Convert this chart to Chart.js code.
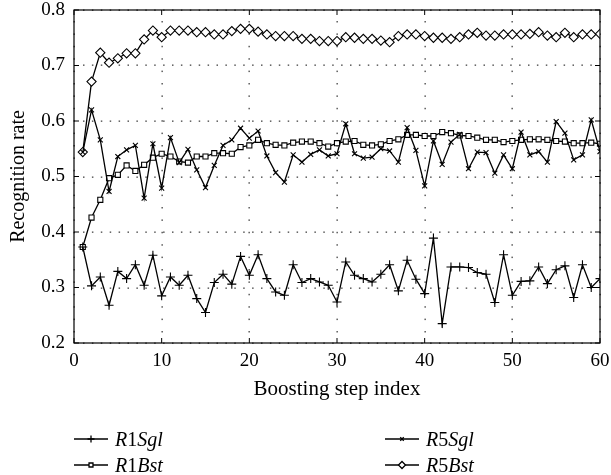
<!DOCTYPE html>
<html>
<head>
<meta charset="utf-8">
<script src="https://cdn.jsdelivr.net/npm/chart.js@4.4.1/dist/chart.umd.min.js"></script>
<style>
  body { margin: 0; background: #fff; }
  #wrap { position: relative; width: 611px; height: 475px; }
  #legend { position: absolute; left: 0; top: 428px; width: 611px; font-family: "Liberation Serif", serif; font-size: 20px; color: #000; }
  .item { position: absolute; display: flex; align-items: center; height: 22px; }
  .item canvas { margin-right: 7px; }
</style>
</head>
<body>
<div id="wrap">
  <canvas id="chart-rate" width="611" height="475"></canvas>
  <div id="legend"></div>
</div>
<script>
"use strict";

// boosting step index
let steps = [1, 2, 3, 4, 5, 6, 7, 8, 9, 10, 11, 12, 13, 14, 15, 16, 17, 18, 19, 20,
    21, 22, 23, 24, 25, 26, 27, 28, 29, 30, 31, 32, 33, 34, 35, 36, 37, 38, 39, 40,
    41, 42, 43, 44, 45, 46, 47, 48, 49, 50, 51, 52, 53, 54, 55, 56, 57, 58, 59, 60];

let r1Sgl = [0.373, 0.303, 0.319, 0.268, 0.329, 0.316, 0.341, 0.304, 0.358, 0.285,
    0.319, 0.304, 0.322, 0.280, 0.255, 0.309, 0.324, 0.306, 0.356, 0.322,
    0.359, 0.316, 0.292, 0.286, 0.341, 0.309, 0.316, 0.310, 0.304, 0.274,
    0.346, 0.322, 0.316, 0.310, 0.324, 0.341, 0.294, 0.349, 0.315, 0.289,
    0.389, 0.235, 0.337, 0.337, 0.336, 0.327, 0.324, 0.273, 0.359, 0.286,
    0.311, 0.312, 0.337, 0.307, 0.332, 0.339, 0.282, 0.341, 0.300, 0.316];

let r5Sgl = [0.544, 0.620, 0.566, 0.473, 0.536, 0.548, 0.556, 0.461, 0.559, 0.479,
    0.570, 0.525, 0.549, 0.512, 0.480, 0.520, 0.556, 0.566, 0.587, 0.569,
    0.582, 0.537, 0.507, 0.490, 0.539, 0.526, 0.540, 0.548, 0.537, 0.541,
    0.595, 0.541, 0.533, 0.535, 0.550, 0.546, 0.526, 0.588, 0.547, 0.483,
    0.564, 0.522, 0.562, 0.576, 0.514, 0.544, 0.543, 0.506, 0.539, 0.514,
    0.580, 0.539, 0.545, 0.526, 0.599, 0.578, 0.530, 0.539, 0.602, 0.545];

let r1Bst = [0.373, 0.426, 0.458, 0.497, 0.503, 0.520, 0.510, 0.521, 0.534, 0.541,
    0.536, 0.527, 0.525, 0.536, 0.536, 0.542, 0.542, 0.541, 0.553, 0.556,
    0.566, 0.560, 0.557, 0.556, 0.561, 0.563, 0.563, 0.560, 0.554, 0.560,
    0.563, 0.564, 0.557, 0.556, 0.558, 0.564, 0.567, 0.575, 0.575, 0.573,
    0.573, 0.580, 0.578, 0.574, 0.573, 0.570, 0.566, 0.566, 0.562, 0.564,
    0.566, 0.567, 0.567, 0.566, 0.564, 0.563, 0.560, 0.560, 0.561, 0.559];

let r5Bst = [0.544, 0.671, 0.723, 0.705, 0.713, 0.722, 0.722, 0.747, 0.763, 0.751,
    0.763, 0.763, 0.763, 0.760, 0.760, 0.756, 0.756, 0.762, 0.766, 0.766,
    0.761, 0.756, 0.753, 0.753, 0.753, 0.748, 0.748, 0.744, 0.744, 0.744,
    0.751, 0.750, 0.748, 0.748, 0.745, 0.742, 0.753, 0.756, 0.756, 0.753,
    0.750, 0.750, 0.748, 0.751, 0.756, 0.759, 0.754, 0.754, 0.756, 0.756,
    0.756, 0.757, 0.760, 0.754, 0.751, 0.759, 0.751, 0.756, 0.756, 0.757];

let seriesNames = ["R1Sgl", "R5Sgl", "R1Bst", "R5Bst"];

function toPoints(values) {
    let pts = [];
    for (let i = 0; i < values.length; i++) {
        pts.push({ x: steps[i], y: values[i] });
    }
    return pts;
}

function makeSet(label, values, style, radius) {
    return {
        label: label,
        data: toPoints(values),
        borderColor: "#000",
        backgroundColor: "#fff",
        borderWidth: 1.3,
        pointStyle: style,
        pointRadius: radius,
        pointBorderColor: "#000",
        pointBackgroundColor: "#fff",
        pointBorderWidth: 1.1,
        tension: 0,
        fill: false
    };
}

// dotted grid behind the lines
let gridPlugin = {
    id: "dotgrid",
    beforeDatasetsDraw: function (chart) {
        let ctx = chart.ctx;
        let a = chart.chartArea;
        let xs = chart.scales.x;
        let ys = chart.scales.y;
        ctx.save();
        ctx.fillStyle = "#444";
        xs.ticks.forEach(function (t) {
            let px = Math.round(xs.getPixelForValue(t.value));
            for (let y = a.bottom - 12; y > a.top + 3; y -= 12.4) {
                ctx.fillRect(px - 0.5, y, 1.3, 1.5);
            }
        });
        ys.ticks.forEach(function (t) {
            let py = Math.round(ys.getPixelForValue(t.value));
            for (let x = a.left + 9; x < a.right - 3; x += 8.9) {
                ctx.fillRect(x, py - 0.5, 1.5, 1.3);
            }
        });
        ctx.restore();
    }
};

// box round the plot with inward ticks, like the original figure
let boxPlugin = {
    id: "box",
    afterDraw: function (chart) {
        let ctx = chart.ctx;
        let a = chart.chartArea;
        let xs = chart.scales.x;
        let ys = chart.scales.y;
        ctx.save();
        ctx.strokeStyle = "#000";
        ctx.lineWidth = 1.2;
        ctx.strokeRect(a.left, a.top, a.right - a.left, a.bottom - a.top);
        ctx.lineWidth = 1;
        ctx.beginPath();
        xs.ticks.forEach(function (t) {
            let px = xs.getPixelForValue(t.value);
            ctx.moveTo(px, a.bottom);
            ctx.lineTo(px, a.bottom - 5);
            ctx.moveTo(px, a.top);
            ctx.lineTo(px, a.top + 5);
        });
        ys.ticks.forEach(function (t) {
            let py = ys.getPixelForValue(t.value);
            ctx.moveTo(a.left, py);
            ctx.lineTo(a.left + 5, py);
            ctx.moveTo(a.right, py);
            ctx.lineTo(a.right - 5, py);
        });
        ctx.stroke();
        ctx.restore();
    }
};

let serif = "'Liberation Serif', 'Times New Roman', serif";

let canvas = document.getElementById("chart-rate");
let myChart = new Chart(canvas, {
    type: "line",
    data: {
        datasets: [
            makeSet("R1Sgl", r1Sgl, "cross", 4.5),
            makeSet("R5Sgl", r5Sgl, "crossRot", 3.5),
            makeSet("R1Bst", r1Bst, "rect", 3.6),
            makeSet("R5Bst", r5Bst, "rectRot", 4.6)
        ]
    },
    options: {
        responsive: false,
        animation: false,
        layout: { padding: { top: 10, right: 11, left: 0, bottom: 73 } },
        plugins: {
            legend: { display: false },
            tooltip: { enabled: false }
        },
        scales: {
            x: {
                type: "linear",
                min: 0,
                max: 60,
                afterFit: function (scale) {
                    scale.height = 59;
                    scale.paddingLeft = 0;
                    scale.paddingRight = 0;
                },
                ticks: {
                    stepSize: 10,
                    color: "#000",
                    padding: 7,
                    maxRotation: 0,
                    font: { family: serif, size: 19 }
                },
                grid: { display: false, drawTicks: false },
                border: { display: false },
                title: {
                    display: true,
                    text: "Boosting step index",
                    color: "#000",
                    font: { family: serif, size: 21 },
                    padding: { top: 4, bottom: 0 }
                }
            },
            y: {
                min: 0.2,
                max: 0.8,
                afterFit: function (scale) {
                    scale.width = 74;
                    scale.paddingTop = 0;
                    scale.paddingBottom = 0;
                },
                ticks: {
                    stepSize: 0.1,
                    color: "#000",
                    padding: 9,
                    font: { family: serif, size: 19 },
                    callback: function (v) { return v.toFixed(1); }
                },
                grid: { display: false, drawTicks: false },
                border: { display: false },
                title: {
                    display: true,
                    text: "Recognition rate",
                    color: "#000",
                    font: { family: serif, size: 20 },
                    padding: { top: 7, bottom: 6 }
                }
            }
        }
    },
    plugins: [gridPlugin, boxPlugin]
});

// legend: line sample with marker, in two columns
let legendPlaces = [
    { left: 74, top: 0 },
    { left: 385, top: 0 },
    { left: 74, top: 26 },
    { left: 385, top: 26 }
];

function drawSample(c, style, radius) {
    let g = c.getContext("2d");
    g.strokeStyle = "#000";
    g.fillStyle = "#fff";
    g.lineWidth = 1.3;
    g.beginPath();
    g.moveTo(0, 11);
    g.lineTo(34, 11);
    g.stroke();
    Chart.helpers.drawPoint(g, {
        pointStyle: style,
        radius: radius,
        borderWidth: 1
    }, 17, 11);
}

let legendDiv = document.getElementById("legend");
let sampleStyles = [["cross", 3.5], ["crossRot", 2.5], ["rect", 2.8], ["rectRot", 3.5]];
for (let i = 0; i < seriesNames.length; i++) {
    let item = document.createElement("div");
    item.className = "item";
    item.style.left = legendPlaces[i].left + "px";
    item.style.top = legendPlaces[i].top + "px";
    let c = document.createElement("canvas");
    c.width = 34;
    c.height = 22;
    drawSample(c, sampleStyles[i][0], sampleStyles[i][1]);
    item.appendChild(c);
    let name = seriesNames[i];
    let label = document.createElement("span");
    label.innerHTML = "<i>" + name.charAt(0) + "</i>" + name.charAt(1) + "<i>" + name.substring(2) + "</i>";
    item.appendChild(label);
    legendDiv.appendChild(item);
}
</script>
</body>
</html>
